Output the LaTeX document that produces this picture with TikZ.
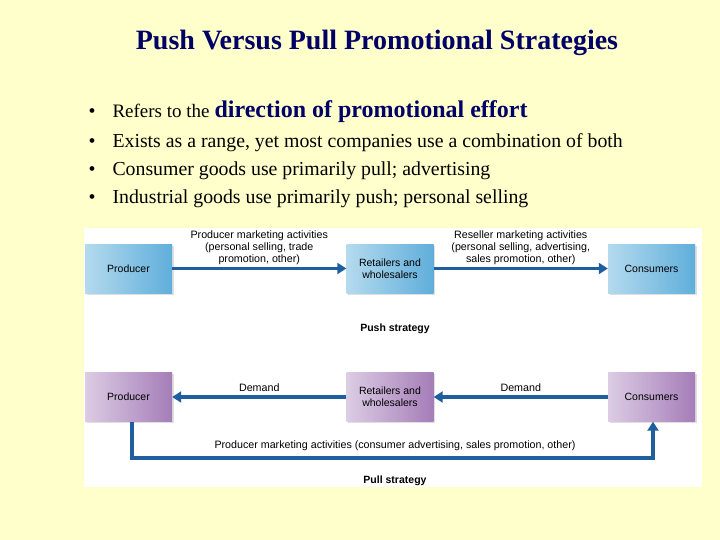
\documentclass[tikz,border=0pt]{standalone}
\usepackage{fontspec}
\setmainfont{Liberation Serif}
\setsansfont{Liberation Sans}
\usepackage{tikz}
\usetikzlibrary{arrows.meta,positioning,shadows}
\definecolor{slidebg}{HTML}{FFFFCC}
\definecolor{navy}{HTML}{000066}
\definecolor{flowblue}{HTML}{1F5F9F}
\definecolor{pushlight}{HTML}{B4DAEE}
\definecolor{pushdark}{HTML}{5FAEDB}
\definecolor{pulllight}{HTML}{DCCCE4}
\definecolor{pulldark}{HTML}{A57DB8}

\begin{document}
\begin{tikzpicture}[
x=1pt, y=-1pt,
pushbox/.style={minimum width=87pt, minimum height=49pt, align=center, font=\sffamily\fontsize{10.5}{12}\selectfont, left color=pushlight, right color=pushdark, drop shadow={opacity=0.25, shadow xshift=1.5pt, shadow yshift=-1.5pt}},
pullbox/.style={pushbox, left color=pulllight, right color=pulldark},
flow/.style={-{Triangle[length=9pt, width=11pt]}, line width=3.5pt, flowblue},
lbl/.style={align=center, text=black, font=\sffamily\fontsize{10.7}{12}\selectfont},
bullet/.style={anchor=base west, font=\fontsize{19.8}{22}\selectfont}
]
\fill[slidebg] (0,0) rectangle (720,540);
\node[font=\bfseries\fontsize{28}{32}\selectfont, text=navy] (title) at (377,43) {Push Versus Pull Promotional Strategies};

% bullet list
\foreach \y/\txt [count=\i] in {
  118/{{\fontsize{19}{20}\selectfont Refers to the} {\fontsize{24}{26}\selectfont\bfseries\color{navy} direction of promotional effort}},
  148/{Exists as a range, yet most companies use a combination of both},
  176/{Consumer goods use primarily pull; advertising},
  204/{Industrial goods use primarily push; personal selling}} {
  \node[bullet] (dot\i) at (85,\y) {\textbullet};
  \node[bullet] (item\i) at (109,\y) {\txt};
}

\fill[white] (84,228) rectangle (702,487);

% push strategy
\node[pushbox] (prodA) at (128.5,268.5) {Producer};
\node[pushbox] (retA) at (390,268.5) {Retailers and\\wholesalers};
\node[pushbox] (consA) at (651.5,268.5) {Consumers};
\draw[flow] (prodA) -- (retA) node[lbl, midway, above=-1pt] {Producer marketing activities\\(personal selling, trade\\promotion, other)};
\draw[flow] (retA) -- (consA) node[lbl, midway, above=-1pt] {Reseller marketing activities\\(personal selling, advertising,\\sales promotion, other)};
\node[lbl, font=\sffamily\bfseries\fontsize{10.5}{12}\selectfont] (push) at (395,329) {Push strategy};

% pull strategy
\node[pullbox] (prodB) at (128.5,397) {Producer};
\node[pullbox] (retB) at (390,397) {Retailers and\\wholesalers};
\node[pullbox] (consB) at (651.5,397) {Consumers};
\draw[flow] (retB) -- (prodB) node[lbl, midway, above=0pt] {Demand};
\draw[flow] (consB) -- (retB) node[lbl, midway, above=0pt] {Demand};
\coordinate (loopL) at (132,458);
\coordinate (loopR) at (653,458);
\draw[flow] (prodB.south -| loopL) -- (loopL) -- (loopR) -- (consB.south -| loopR);
\node[lbl] (pullact) at (395,446) {Producer marketing activities (consumer advertising, sales promotion, other)};
\node[lbl, font=\sffamily\bfseries\fontsize{10.5}{12}\selectfont] (pull) at (395,481) {Pull strategy};
\end{tikzpicture}
\end{document}
